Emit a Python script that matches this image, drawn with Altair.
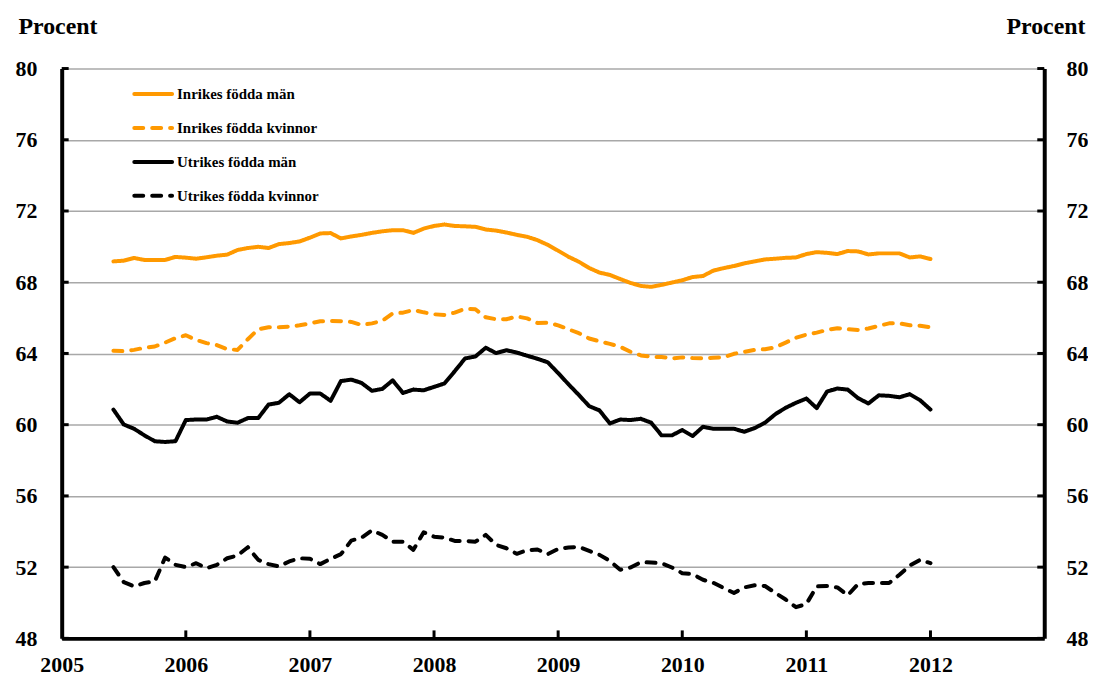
import altair as alt
import pandas as pd

series = ["Inrikes födda män", "Inrikes födda kvinnor", "Utrikes födda män", "Utrikes födda kvinnor"]

# monthly observations, first one June 2005, last one January 2012
first_month_offset = 5

inr_man = [69.17, 69.21, 69.36, 69.25, 69.25, 69.25, 69.42, 69.38, 69.32, 69.40,
           69.49, 69.55, 69.81, 69.92, 69.99, 69.92, 70.14, 70.20, 70.29, 70.50,
           70.74, 70.76, 70.46, 70.57, 70.66, 70.77, 70.86, 70.92, 70.92, 70.77,
           71.01, 71.16, 71.24, 71.16, 71.14, 71.11, 70.96, 70.90, 70.79, 70.66,
           70.55, 70.36, 70.10, 69.77, 69.43, 69.15, 68.80, 68.54, 68.41, 68.18,
           67.96, 67.79, 67.74, 67.85, 67.98, 68.11, 68.29, 68.35, 68.65, 68.79,
           68.91, 69.06, 69.17, 69.28, 69.32, 69.37, 69.39, 69.58, 69.69, 69.65,
           69.58, 69.75, 69.73, 69.56, 69.62, 69.62, 69.62, 69.39, 69.45, 69.30]

inr_kv = [64.15, 64.13, 64.20, 64.32, 64.39, 64.61, 64.86, 65.02, 64.76, 64.58,
          64.47, 64.24, 64.20, 64.80, 65.36, 65.47, 65.47, 65.51, 65.58, 65.69,
          65.81, 65.82, 65.81, 65.77, 65.60, 65.69, 65.84, 66.25, 66.29, 66.44,
          66.31, 66.20, 66.16, 66.29, 66.51, 66.48, 66.03, 65.92, 65.92, 66.08,
          65.97, 65.71, 65.73, 65.58, 65.36, 65.14, 64.84, 64.68, 64.54, 64.37,
          64.09, 63.89, 63.81, 63.80, 63.72, 63.78, 63.74, 63.73, 63.76, 63.78,
          63.98, 64.09, 64.20, 64.24, 64.35, 64.61, 64.88, 65.06, 65.17, 65.32,
          65.42, 65.36, 65.32, 65.40, 65.55, 65.69, 65.69, 65.58, 65.56, 65.47]

utr_man = [60.85, 60.01, 59.77, 59.40, 59.07, 59.03, 59.07, 60.26, 60.29, 60.29,
           60.44, 60.18, 60.11, 60.37, 60.37, 61.13, 61.23, 61.71, 61.26, 61.75,
           61.75, 61.34, 62.45, 62.53, 62.34, 61.90, 62.01, 62.49, 61.78, 61.97,
           61.93, 62.12, 62.31, 63.00, 63.72, 63.83, 64.32, 64.02, 64.18, 64.05,
           63.87, 63.70, 63.50, 62.90, 62.27, 61.67, 61.04, 60.80, 60.07, 60.29,
           60.26, 60.33, 60.11, 59.40, 59.40, 59.70, 59.36, 59.88, 59.77, 59.77,
           59.77, 59.60, 59.81, 60.11, 60.59, 60.95, 61.23, 61.47, 60.93, 61.86,
           62.03, 61.97, 61.49, 61.19, 61.65, 61.62, 61.54, 61.71, 61.37, 60.85]

utr_kv = [52.00, 51.16, 50.92, 51.11, 51.20, 52.54, 52.13, 52.00, 52.22, 51.94,
          52.13, 52.50, 52.65, 53.12, 52.41, 52.17, 52.04, 52.32, 52.50, 52.47,
          52.17, 52.47, 52.73, 53.49, 53.66, 54.07, 53.81, 53.43, 53.43, 52.97,
          53.96, 53.71, 53.66, 53.47, 53.47, 53.43, 53.81, 53.25, 53.06, 52.75,
          52.95, 52.99, 52.73, 53.02, 53.10, 53.14, 52.91, 52.69, 52.35, 51.85,
          51.98, 52.28, 52.26, 52.22, 51.98, 51.66, 51.61, 51.29, 51.12, 50.83,
          50.55, 50.86, 50.98, 50.94, 50.55, 50.18, 49.75, 49.93, 50.92, 50.94,
          50.86, 50.42, 51.05, 51.11, 51.11, 51.11, 51.57, 52.09, 52.41, 52.22]

x_labels = [2005, 2006, 2007, 2008, 2009, 2010, 2011, 2012]
x_ticks = [2006, 2007, 2008, 2009, 2010, 2011, 2012]
y_ticks = [48, 52, 56, 60, 64, 68, 72, 76, 80]

colors = ["#FF9900", "#FF9900", "#000000", "#000000"]
dashes = [[1, 0], [9, 9], [1, 0], [9, 9]]
widths = [4, 4, 3.6, 3.6]

W, H = 988, 573
FONT = "Liberation Serif"

rows = []
for name, vals in zip(series, [inr_man, inr_kv, utr_man, utr_kv]):
    for k, v in enumerate(vals):
        rows.append({"serie": name, "tid": 2005 + (first_month_offset + k) / 12.0, "varde": v})
df = pd.DataFrame(rows)

xscale = alt.Scale(domain=[2005, 2005 + 95 / 12.0], nice=False, zero=False)
yscale = alt.Scale(domain=[48, 80], nice=False, zero=False)
color_scale = alt.Scale(domain=series, range=colors)
dash_scale = alt.Scale(domain=series, range=dashes)
width_scale = alt.Scale(domain=series, range=widths)

lab = dict(labelFont=FONT, labelFontSize=22, labelFontWeight="bold", labelColor="black")
ttl = dict(titleFont=FONT, titleFontSize=24, titleFontWeight="bold", titleColor="black",
           titleAngle=0, titleBaseline="alphabetic")

x_axis = alt.Axis(values=x_labels, format="d", ticks=False, grid=False,
                  domainColor="black", domainWidth=4, labelPadding=16,
                  labelFlush=False, title=None, **lab)

lines = alt.Chart(df).mark_line(strokeCap="round", strokeJoin="round").encode(
    x=alt.X("tid:Q", scale=xscale, axis=x_axis),
    y=alt.Y("varde:Q", scale=yscale, axis=None),
    color=alt.Color("serie:N", scale=color_scale, legend=None),
    strokeDash=alt.StrokeDash("serie:N", scale=dash_scale, legend=None),
    strokeWidth=alt.StrokeWidth("serie:N", scale=width_scale, legend=None),
)

ytick_df = pd.DataFrame({"v": y_ticks})
xtick_df = pd.DataFrame({"yr": x_ticks})

left_ticks = alt.Chart(ytick_df).mark_rule(color="black", strokeWidth=3).encode(
    y=alt.Y("v:Q", scale=yscale,
            axis=alt.Axis(orient="left", values=y_ticks, ticks=False, grid=False,
                          domainColor="black", domainWidth=4, labelPadding=25,
                          labelAlign="right",
                          title="Procent", titleAlign="left", titleX=-44, titleY=-35,
                          **lab, **ttl)),
    x=alt.value(0), x2=alt.value(7),
)

right_ticks = alt.Chart(ytick_df).mark_rule(color="black", strokeWidth=3).encode(
    y=alt.Y("v:Q", scale=yscale,
            axis=alt.Axis(orient="right", values=y_ticks, ticks=False, grid=True,
                          gridColor="#A8A8A8", gridWidth=1.5,
                          domainColor="black", domainWidth=4, labelPadding=22,
                          labelAlign="left",
                          title="Procent", titleAlign="right", titleX=41, titleY=-35,
                          **lab, **ttl)),
    x=alt.value(W - 7), x2=alt.value(W),
)

bottom_ticks = alt.Chart(xtick_df).mark_rule(color="black", strokeWidth=3).encode(
    x=alt.X("yr:Q", scale=xscale, axis=x_axis),
    y=alt.value(H - 8), y2=alt.value(H),
)

leg_df = pd.DataFrame({"serie": series})
leg_y = alt.Y("serie:N", scale=alt.Scale(type="point", domain=series, range=[25.7, 128], padding=0),
              axis=None)

leg_lines = alt.Chart(leg_df).mark_rule(strokeCap="round").encode(
    y=leg_y, x=alt.value(73), x2=alt.value(111),
    color=alt.Color("serie:N", scale=color_scale, legend=None),
    strokeDash=alt.StrokeDash("serie:N", scale=dash_scale, legend=None),
    strokeWidth=alt.StrokeWidth("serie:N", scale=width_scale, legend=None),
)

leg_text = alt.Chart(leg_df).mark_text(align="left", baseline="middle", font=FONT, fontSize=15,
                                        fontWeight="bold", color="black").encode(
    y=leg_y, x=alt.value(116), text="serie:N",
)

chart = alt.layer(right_ticks, lines, left_ticks, bottom_ticks, leg_lines, leg_text).resolve_scale(
    y="independent"
).properties(
    width=W, height=H,
    padding={"left": 54, "top": 59, "right": 44, "bottom": 42},
    autosize=alt.AutoSizeParams(type="none"),
    background="white",
).configure_view(stroke=None)

chart.save("out.html", embed_options={"renderer": "svg", "actions": False})
